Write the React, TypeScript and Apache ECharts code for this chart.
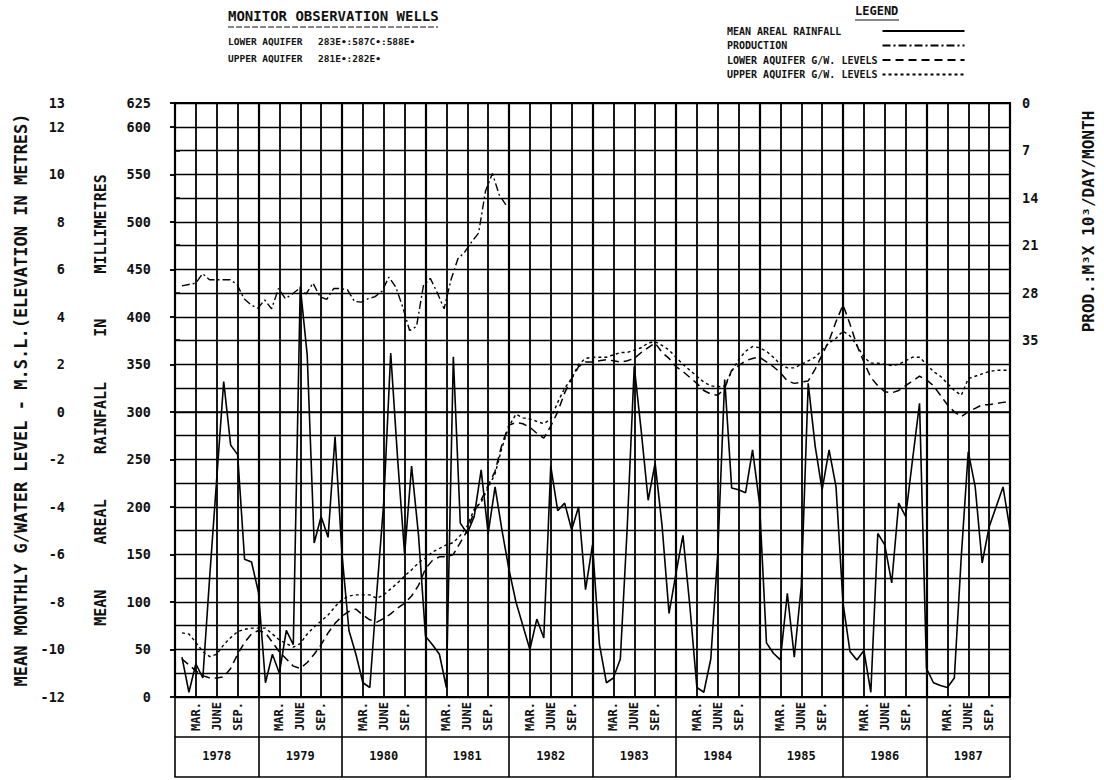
import React, { useEffect, useRef } from "react";
import * as echarts from "echarts";

const MONO = "'DejaVu Sans Mono', 'Liberation Mono', monospace";
const INK = "#111";
const W = "bold";

// ---- categories / tick labels ----
const years = ["1978", "1979", "1980", "1981", "1982", "1983", "1984", "1985", "1986", "1987"];
const monthLabels = ["MAR.", "JUNE", "SEP."]; // placed at end of Mar, Jun, Sep of each year
const monthLabelOffsets = [3, 6, 9];

// ---- series values (one value per month, Jan 1978 .. Dec 1987) ----
// mean areal rainfall, mm
const rainfall = [
  42, 5, 35, 20, 128, 230, 332, 265, 255, 145, 142, 110,
  15, 45, 25, 70, 55, 432, 360, 162, 190, 168, 274, 150,
  70, 45, 15, 10, 110, 205, 362, 250, 150, 243, 170, 64,
  55, 45, 10, 358, 183, 172, 190, 239, 172, 221, 175, 134,
  100, 75, 50, 82, 62, 243, 196, 204, 176, 200, 113, 160,
  55, 15, 20, 40, 180, 348, 280, 207, 246, 180, 88, 130,
  170, 95, 10, 5, 40, 151, 334, 220, 218, 215, 260, 204,
  57, 46, 39, 109, 42, 116, 330, 264, 218, 260, 221, 99,
  48, 39, 49, 5, 172, 160, 120, 204, 190, 250, 309, 30,
  15, 12, 10, 20, 148, 258, 221, 141, 179, 200, 221, 176,
];

// production, m3 x 10^3 / day / month (Jan 1978 .. Dec 1981)
const production = [
  27.0, 26.8, 26.6, 25.2, 26.1, 26.1, 26.1, 26.1, 26.8, 28.9, 29.8, 30.3,
  29.1, 30.4, 27.4, 28.9, 28.2, 27.4, 28.2, 26.6, 28.6, 29.0, 27.4, 27.4,
  27.6, 29.3, 29.4, 28.9, 28.6, 27.8, 25.7, 27.2, 30.1, 33.6, 33.0, 27.0,
  25.9, 28.0, 30.4, 26.1, 23.0, 22.0, 20.5, 19.2, 13.0, 10.4, 13.6, 15.1,
];

// lower aquifer groundwater level, m above M.S.L.
const lowerAquifer = [
  -10.4, -10.65, -10.9, -11.1, -11.2, -11.2, -11.15, -10.8, -10.2, -9.7, -9.35, -9.2,
  -9.3, -9.7, -10.1, -10.4, -10.7, -10.8, -10.55, -10.2, -9.8, -9.3, -8.9, -8.6,
  -8.4, -8.3, -8.55, -8.75, -8.85, -8.7, -8.5, -8.25, -8.05, -7.75, -7.3, -6.6,
  -6.25, -6.1, -6.1, -6.0, -5.5, -5.0, -4.2, -3.7, -3.1, -2.5, -1.35, -0.55,
  -0.45, -0.5, -0.65, -0.9, -1.1, -0.6, 0.0, 0.8, 1.4, 1.9, 2.1, 2.1,
  2.15, 2.2, 2.15, 2.1, 2.15, 2.25, 2.5, 2.7, 2.9, 2.5, 2.25, 1.9,
  1.7, 1.45, 1.2, 0.9, 0.75, 0.7, 1.0, 1.75, 1.95, 2.15, 2.25, 2.3,
  2.1, 1.9, 1.65, 1.3, 1.2, 1.25, 1.3, 1.8, 2.4, 3.0, 3.8, 4.5,
  3.7, 2.8, 2.1, 1.45, 1.1, 0.85, 0.8, 0.9, 1.1, 1.3, 1.5, 1.35,
  1.1, 0.7, 0.3, 0.0, -0.2, 0.0, 0.15, 0.3, 0.3, 0.35, 0.4, 0.45,
];

// upper aquifer groundwater level, m above M.S.L.
const upperAquifer = [
  -9.3, -9.35, -9.7, -10.1, -10.3, -10.2, -9.8, -9.5, -9.25, -9.15, -9.1, -9.1,
  -9.1, -9.35, -9.6, -9.75, -9.9, -9.75, -9.35, -9.05, -8.8, -8.55, -8.2, -7.9,
  -7.75, -7.7, -7.7, -7.7, -7.85, -7.7, -7.45, -7.2, -6.9, -6.65, -6.35, -6.15,
  -5.9, -5.75, -5.6, -5.5, -5.2, -4.8, -4.1, -3.8, -3.2, -2.6, -1.5, -0.6,
  -0.1, -0.25, -0.3, -0.4, -0.5, -0.3, 0.4, 1.0, 1.4, 2.0, 2.25, 2.3,
  2.3, 2.3, 2.4, 2.5, 2.5, 2.6, 2.7, 2.9, 2.95, 2.8, 2.6, 2.3,
  2.0, 1.75, 1.5, 1.25, 1.1, 1.05, 1.1, 1.7, 2.2, 2.55, 2.75, 2.7,
  2.55, 2.3, 2.0, 1.85, 1.85, 2.0, 2.15, 2.3, 2.6, 2.9, 3.1, 3.4,
  3.2, 2.8, 2.3, 2.05, 2.05, 2.0, 1.95, 2.0, 2.15, 2.3, 2.3, 2.0,
  1.7, 1.5, 1.2, 0.9, 0.7, 1.4, 1.5, 1.6, 1.7, 1.75, 1.75, 1.75,
];

const SERIES_NAMES = [
  "MEAN AREAL RAINFALL",
  "PRODUCTION",
  "LOWER AQUIFER G/W. LEVELS",
  "UPPER AQUIFER G/W. LEVELS",
];

const toPoints = (arr: number[]) => arr.map((v, i) => [i + 1, v]);

function monthLabel(v: number): string {
  if (v >= 120) return "";
  const idx = monthLabelOffsets.indexOf(v % 12);
  return idx >= 0 ? monthLabels[idx] : "";
}
function yearLabel(v: number): string {
  if (v % 12 !== 6) return "";
  return years[(v - 6) / 12] ?? "";
}

const hiddenAxisParts = {
  axisLine: { show: false },
  axisTick: { show: false },
  axisLabel: { show: false },
  splitLine: { show: false },
};

const gap = "\u00a0\u00a0\u00a0\u00a0\u00a0";

function buildOption(): any {
  return {
    animation: false,
    backgroundColor: "#ffffff",
    textStyle: { fontFamily: MONO, color: INK },
    legend: {
      orient: "vertical",
      left: 722,
      top: 21,
      align: "right",
      itemWidth: 82,
      itemHeight: 10,
      itemGap: 4.5,
      selectedMode: false,
      itemStyle: { opacity: 0, borderWidth: 0 },
      textStyle: { fontFamily: MONO, fontSize: 10, fontWeight: W, color: INK },
      formatter: (name: string) => name.padEnd(25, "\u00a0"),
      data: SERIES_NAMES,
    },
    grid: [
      {
        left: 175, top: 103, width: 835, height: 594,
        show: true, borderColor: "#000", borderWidth: 2, backgroundColor: "transparent",
      },
      { left: 175, top: 103, width: 835, height: 237, show: false },
    ],
    xAxis: [
      // quarterly vertical grid lines
      {
        gridIndex: 0, type: "value", min: 0, max: 120, interval: 3,
        ...hiddenAxisParts,
        splitLine: { show: true, lineStyle: { color: "#000", width: 1.8 } },
      },
      // month labels
      {
        gridIndex: 0, type: "value", min: 0, max: 120, interval: 3, position: "bottom",
        axisLine: { show: true, lineStyle: { color: "#000", width: 1.6 } },
        axisTick: { show: false },
        splitLine: { show: false },
        axisLabel: {
          show: true, rotate: 90, margin: 5, fontFamily: MONO, fontSize: 12, fontWeight: W, color: INK,
          showMinLabel: true, showMaxLabel: true,
          formatter: (v: number) => monthLabel(v),
        },
      },
      // yearly separators, through the label table
      {
        gridIndex: 0, type: "value", min: 0, max: 120, interval: 12, position: "bottom",
        axisLine: { show: false },
        axisTick: { show: true, length: 80, lineStyle: { color: "#000", width: 1.6 } },
        axisLabel: { show: false },
        splitLine: { show: true, lineStyle: { color: "#000", width: 2.2 } },
      },
      // year labels
      {
        gridIndex: 0, type: "value", min: 0, max: 120, interval: 6, position: "bottom",
        axisLine: { show: false }, axisTick: { show: false }, splitLine: { show: false },
        axisLabel: {
          show: true, margin: 53, fontFamily: MONO, fontSize: 12, fontWeight: W, color: INK,
          formatter: (v: number) => yearLabel(v),
        },
      },
      // table line between months and years
      {
        gridIndex: 0, type: "value", min: 0, max: 120, position: "bottom", offset: 40,
        ...hiddenAxisParts,
        axisLine: { show: true, lineStyle: { color: "#000", width: 1.6 } },
      },
      // table bottom line
      {
        gridIndex: 0, type: "value", min: 0, max: 120, position: "bottom", offset: 80,
        ...hiddenAxisParts,
        axisLine: { show: true, lineStyle: { color: "#000", width: 1.6 } },
      },
      // production grid x axis
      { gridIndex: 1, type: "value", min: 0, max: 120, show: false },
    ],
    yAxis: [
      // rainfall (mm)
      {
        gridIndex: 0, type: "value", min: 0, max: 625, interval: 50, position: "left", offset: 12,
        name: `MEAN${gap}AREAL${gap}RAINFALL${gap}IN${gap}MILLIMETRES`,
        nameLocation: "middle", nameRotate: 90, nameGap: 55,
        nameTextStyle: { fontFamily: MONO, fontSize: 15, fontWeight: W, color: INK },
        axisLine: { show: true, lineStyle: { color: "#000", width: 1.6 } },
        axisTick: { show: true, length: 5, lineStyle: { color: "#000", width: 1.5 } },
        axisLabel: { show: true, margin: 12, fontFamily: MONO, fontSize: 13.5, fontWeight: W, color: INK },
        splitLine: { show: false },
      },
      // groundwater level (m)
      {
        gridIndex: 0, type: "value", min: -12, max: 13, interval: 2, position: "left", offset: 97,
        name: "MEAN MONTHLY G/WATER LEVEL - M.S.L.(ELEVATION IN METRES)",
        nameLocation: "middle", nameRotate: 90, nameGap: 49,
        nameTextStyle: { fontFamily: MONO, fontSize: 17, fontWeight: W, color: INK },
        axisLine: { show: true, lineStyle: { color: "#000", width: 1.6 } },
        axisTick: { show: true, length: 5, lineStyle: { color: "#000", width: 1.5 } },
        axisLabel: { show: true, margin: 13, fontFamily: MONO, fontSize: 13.5, fontWeight: W, color: INK },
        splitLine: { show: false },
      },
      // horizontal grid lines every 25 mm
      {
        gridIndex: 0, type: "value", min: 0, max: 625, interval: 25,
        ...hiddenAxisParts,
        splitLine: { show: true, lineStyle: { color: "#000", width: 1.4 } },
      },
      // production (right, reversed)
      {
        gridIndex: 1, type: "value", min: 0, max: 35, interval: 7, inverse: true,
        position: "right", offset: 7,
        name: "PROD.:M³X 10³/DAY/MONTH",
        nameLocation: "middle", nameRotate: 90, nameGap: 70,
        nameTextStyle: { fontFamily: MONO, fontSize: 16, fontWeight: W, color: INK },
        axisLine: { show: true, lineStyle: { color: "#000", width: 1.6 } },
        axisTick: { show: true, length: 5, lineStyle: { color: "#000", width: 1.5 } },
        axisLabel: { show: true, margin: 12, fontFamily: MONO, fontSize: 13.5, fontWeight: W, color: INK },
        splitLine: { show: false },
      },
    ],
    series: [
      {
        name: SERIES_NAMES[0], type: "line", xAxisIndex: 0, yAxisIndex: 0,
        data: toPoints(rainfall), symbol: "none", z: 5,
        lineStyle: { color: "#000", width: 1.6, type: "solid" },
        itemStyle: { color: "#000" },
      },
      {
        name: SERIES_NAMES[1], type: "line", xAxisIndex: 6, yAxisIndex: 3,
        data: toPoints(production), symbol: "none", z: 5,
        lineStyle: { color: "#000", width: 1.4, type: [8, 3, 2, 3] },
        itemStyle: { color: "#000" },
      },
      {
        name: SERIES_NAMES[2], type: "line", xAxisIndex: 0, yAxisIndex: 1,
        data: toPoints(lowerAquifer), symbol: "none", z: 5,
        lineStyle: { color: "#000", width: 1.5, type: [8, 5] },
        itemStyle: { color: "#000" },
      },
      {
        name: SERIES_NAMES[3], type: "line", xAxisIndex: 0, yAxisIndex: 1,
        data: toPoints(upperAquifer), symbol: "none", z: 5,
        lineStyle: { color: "#000", width: 1.4, type: [3, 3] },
        itemStyle: { color: "#000" },
      },
    ],
    graphic: [
      {
        type: "text", left: 228, top: 9,
        style: { text: "MONITOR OBSERVATION WELLS", font: `bold 14px ${MONO}`, fill: INK },
      },
      {
        type: "line", shape: { x1: 228, y1: 27, x2: 438, y2: 27 },
        style: { stroke: INK, lineWidth: 1.2, lineDash: [6, 2] },
      },
      {
        type: "text", left: 228, top: 36,
        style: { text: "LOWER AQUIFER", font: `bold 9.5px ${MONO}`, fill: INK },
      },
      {
        type: "text", left: 318, top: 36,
        style: { text: "283E•:587C•:588E•", font: `bold 9.5px ${MONO}`, fill: INK },
      },
      {
        type: "text", left: 228, top: 53,
        style: { text: "UPPER AQUIFER", font: `bold 9.5px ${MONO}`, fill: INK },
      },
      {
        type: "text", left: 318, top: 53,
        style: { text: "281E•:282E•", font: `bold 9.5px ${MONO}`, fill: INK },
      },
      {
        type: "text", left: 855, top: 5,
        style: { text: "LEGEND", font: `bold 12px ${MONO}`, fill: INK },
      },
      {
        type: "line", shape: { x1: 855, y1: 20, x2: 899, y2: 20 },
        style: { stroke: INK, lineWidth: 1.2 },
      },
    ],
  };
}

export default function App() {
  const ref = useRef<HTMLDivElement>(null);
  useEffect(() => {
    document.body.style.margin = "0";
    if (!ref.current) return;
    const chart = echarts.init(ref.current, null, { renderer: "svg" });
    chart.setOption(buildOption());
    return () => chart.dispose();
  }, []);
  return <div ref={ref} style={{ width: 1104, height: 780, background: "#fff" }} />;
}
